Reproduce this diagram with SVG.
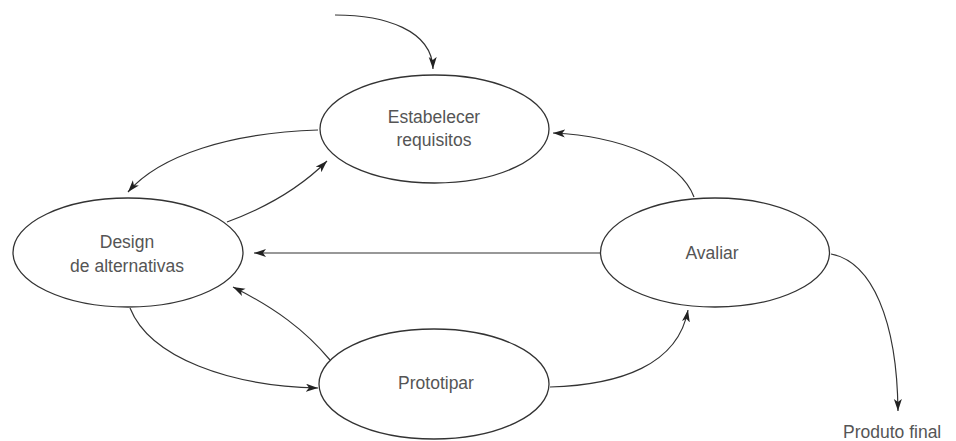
<svg xmlns="http://www.w3.org/2000/svg" width="956" height="441" viewBox="0 0 956 441">
<style>
.node{fill:#fff;stroke:#333;stroke-width:1.3}
.lbl{font-family:"Liberation Sans",Arial,sans-serif;font-size:17.5px;fill:#555;text-anchor:middle}
.c{fill:none;stroke:#333;stroke-width:1.2;marker-end:url(#ah)}
</style>
<defs>
<marker id="ah" markerUnits="userSpaceOnUse" markerWidth="13" markerHeight="9" refX="12" refY="4" orient="auto">
<path d="M0,0 L12,4 L0,8 L3,4 z" fill="#222"/>
</marker>
</defs>
<rect width="956" height="441" fill="#fff"/>
<g id="connectors">
<path class="c" d="M335,15 C385,15 432,30 433,69"/>
<path class="c" d="M318,130 C230,133 160,155 128,192"/>
<path class="c" d="M227,222 C265,208 300,188 327,161"/>
<path class="c" d="M600,253 L254,253"/>
<path class="c" d="M694,197 C680,160 620,136 553,133"/>
<path class="c" d="M330,360 C305,330 275,308 233,287"/>
<path class="c" d="M130,308 C150,358 230,386 318,388"/>
<path class="c" d="M550,387 C620,385 678,365 688,310"/>
<path class="c" d="M831,254 C872,262 897,320 898,411"/>
</g>
<g id="estabelecer">
<ellipse class="node" cx="434.5" cy="129" rx="114.5" ry="54"/>
<text class="lbl" x="434" y="123">Estabelecer</text>
<text class="lbl" x="434" y="146">requisitos</text>
</g>
<g id="design">
<ellipse class="node" cx="128" cy="252.5" rx="115" ry="54.5"/>
<text class="lbl" x="127" y="248">Design</text>
<text class="lbl" x="127" y="272">de alternativas</text>
</g>
<g id="avaliar">
<ellipse class="node" cx="715" cy="252.5" rx="114.5" ry="54.5"/>
<text class="lbl" x="712" y="259">Avaliar</text>
</g>
<g id="prototipar">
<ellipse class="node" cx="434" cy="384" rx="115" ry="55"/>
<text class="lbl" x="436" y="389">Prototipar</text>
</g>
<g id="produto">
<text class="lbl" x="843" y="438" style="text-anchor:start">Produto final</text>
</g>
</svg>
